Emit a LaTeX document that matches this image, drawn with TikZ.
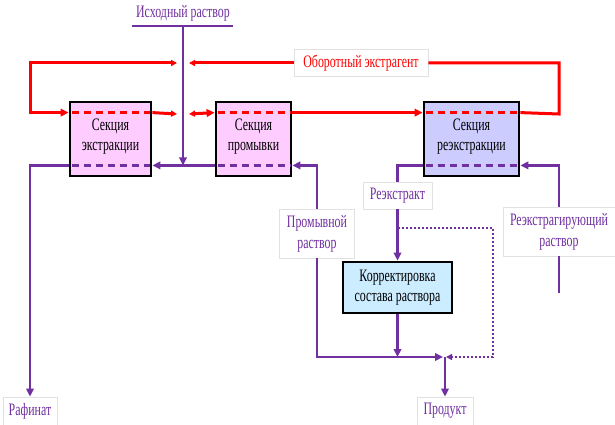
\documentclass[tikz,border=0pt]{standalone}
\usepackage{fontspec}
\setmainfont{Liberation Serif}[FakeStretch=0.68]
\usetikzlibrary{arrows.meta,calc}

\definecolor{flowred}{RGB}{255,0,0}
\definecolor{flowpurple}{RGB}{112,48,160}
\definecolor{pinkfill}{RGB}{255,204,255}
\definecolor{lilacfill}{RGB}{204,204,255}
\definecolor{bluefill}{RGB}{204,236,255}
\definecolor{lblborder}{RGB}{225,225,225}

\tikzset{
  sect/.style={draw=black, line width=2.8pt, align=center, text=black,
    inner sep=0pt, font=\fontsize{17.5}{20}\selectfont},
  lbl/.style={draw=lblborder, line width=0.8pt, fill=white, align=center,
    text=flowpurple, inner sep=0pt, font=\fontsize{17.5}{21}\selectfont},
  rline/.style={draw=flowred, line width=3pt},
  pline/.style={draw=flowpurple, line width=2.5pt},
  rdash/.style={draw=flowred, line width=2.7pt, dash pattern=on 7pt off 5pt},
  pdash/.style={draw=flowpurple, line width=2.7pt, dash pattern=on 7pt off 5pt},
  pdot/.style={draw=flowpurple, line width=2.5pt, dash pattern=on 2pt off 2pt},
  rtip/.tip={Triangle[length=8pt,width=7.5pt]},
  ptip/.tip={Triangle[length=8pt,width=7.5pt]},
}

\begin{document}
\begin{tikzpicture}[x=1pt,y=-1pt]
\useasboundingbox (0,0) rectangle (615,425);

% process sections
\node[sect, fill=pinkfill, minimum width=81pt, minimum height=74pt] (ext) at (110.5,139) {\\[-14pt]Секция\\экстракции};
\node[sect, fill=pinkfill, minimum width=75pt, minimum height=74pt] (wash) at (253.5,139) {\\[-14pt]Секция\\промывки};
\node[sect, fill=lilacfill, minimum width=95pt, minimum height=74pt] (reex) at (471.5,139) {\\[-14pt]Секция\\реэкстракции};
\node[sect, fill=bluefill, minimum width=109pt, minimum height=51pt] (corr) at (397.5,287.5) {Корректировка\\состава раствора};

% stream labels
\node[text=flowpurple, inner sep=0pt, font=\fontsize{17.5}{20}\selectfont] (feedtxt) at (183,13) {Исходный раствор};
\node[lbl, text=flowred, minimum width=134pt, minimum height=27pt] (ob) at (361,63) {Оборотный экстрагент};
\node[lbl, minimum width=69pt, minimum height=27pt] (rext) at (397.5,195.5) {Реэкстракт};
\node[lbl, minimum width=75pt, minimum height=49pt] (wsol) at (317,233.5) {Промывной\\раствор};
\node[lbl, minimum width=112pt, minimum height=49pt] (rsol) at (559,231.5) {Реэкстрагирующий\\раствор};
\node[lbl, minimum width=54pt, minimum height=28pt] (raf) at (30,411) {Рафинат};
\node[lbl, minimum width=56pt, minimum height=28pt] (prod) at (445,411) {Продукт};

% junction and corner points
\coordinate (feedL) at (132,26);
\coordinate (feedR) at (233,26);
\coordinate (feed) at (183,26);
\coordinate (gapTL) at (177,63);
\coordinate (gapTR) at (189,63);
\coordinate (gapML) at (177,114);
\coordinate (gapMR) at (189,114);
\coordinate (rcorner) at (559,114);
\coordinate (pport) at ([yshift=12pt]ext.south east);
\coordinate (br) at (398,228);
\coordinate (dotR) at (493,357);
\coordinate (mix) at (445,357);
\coordinate (rsEnd) at (559,293);

% dashed phase lines inside the sections
\foreach \s in {ext,wash,reex}{
  \draw[rdash] ([xshift=3pt,yshift=-12pt]\s.north west) -- ([xshift=-2pt,yshift=-12pt]\s.north east);
  \draw[pdash] ([xshift=3pt,yshift=12pt]\s.south west) -- ([xshift=-2pt,yshift=12pt]\s.south east);
}

% circulating extractant (red)
\draw[rline] ([yshift=-12pt]reex.north east) -- (rcorner) |- (ob.east);
\draw[rline,-{rtip[length=6pt,width=6pt]}] (ob.west) -- (gapTR);
\draw[rline,{rtip[length=6pt,width=6pt]}-{rtip}] (gapTL) -| ([yshift=-12pt]ext.north west -| 30,0) -- ([yshift=-12pt]ext.north west);
\draw[rline,-{rtip[length=6pt,width=6pt]}] ([yshift=-12pt]ext.north east) -- (gapML);
\draw[rline,{rtip[length=6pt,width=6pt]}-{rtip}] (gapMR) -- ([yshift=-12pt]wash.north west);
\draw[rline,-{rtip}] ([yshift=-12pt]wash.north east) -- ([yshift=-12pt]reex.north west);

% aqueous streams (purple)
\draw[pline, line width=2.8pt] (feedL) -- (feedR);
\draw[pline,-{ptip}] (feed) -- (feed |- pport);
\draw[pline,-{ptip}] ([yshift=12pt]wash.south west) -- (pport);
\draw[pline,-{ptip}] ([yshift=12pt]ext.south west) -| (raf.north);
\draw[pline,-{ptip}] (wsol.north) |- ([yshift=12pt]wash.south east);
\draw[pline,-{ptip}, shorten >=2pt] (wsol.south) |- (mix);
\draw[pline] ([yshift=12pt]reex.south west) -| (rext.north);
\draw[pline,-{ptip}] (rext.south) -- (corr.north);
\draw[pline,-{ptip}] (corr.south) -- (corr.south |- mix);
\draw[pdot,-{ptip[length=6pt,width=6pt]}, shorten >=1pt] (br) -| (dotR) -- (mix);
\draw[pline,-{ptip}] (mix) -- (prod.north);
\draw[pline,-{ptip}] (rsol.north) |- ([yshift=12pt]reex.south east);
\draw[pline] (rsol.south) -- (rsEnd);
\end{tikzpicture}
\end{document}
